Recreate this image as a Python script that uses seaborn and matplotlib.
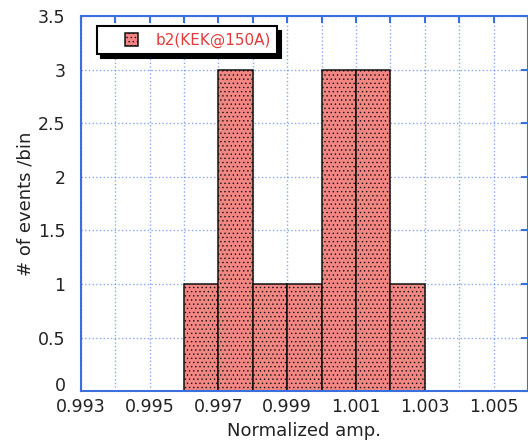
import numpy as np
import pandas as pd
import matplotlib
matplotlib.use("Agg")
import matplotlib.pyplot as plt
import matplotlib.transforms as mtrans
from matplotlib.legend_handler import HandlerPatch, update_from_first_child
from matplotlib.container import BarContainer
from matplotlib.patches import Rectangle
import seaborn as sns

# histogram data
bin_edges = [0.996, 0.997, 0.998, 0.999, 1.000, 1.001, 1.002, 1.003]
counts = [1, 3, 1, 1, 3, 3, 1]
label = "b2(KEK@150A)"

centers = [(a + b) / 2 for a, b in zip(bin_edges[:-1], bin_edges[1:])]
df = pd.DataFrame({"amp": centers, "n": counts})

sns.set_style("white")
plt.rcParams["font.family"] = ["DejaVu Sans"]
plt.rcParams["hatch.color"] = "#e85050"
plt.rcParams["hatch.linewidth"] = 0.5

fig = plt.figure(figsize=(5.28, 4.43), dpi=100)
ax = fig.add_axes([0.153, 0.117, 0.847, 0.847])

blue = "#3a6fe0"

sns.histplot(data=df, x="amp", weights="n", bins=bin_edges, ax=ax,
             color="#f28682", alpha=1, edgecolor="#111111", linewidth=1.1,
             hatch="....", label=label)

ax.set_xlim(0.993, 1.006)
ax.set_ylim(0, 3.5)
ax.set_xticks(np.arange(0.993, 1.0061, 0.001), minor=True)
ax.set_xticks([0.993, 0.995, 0.997, 0.999, 1.001, 1.003, 1.005])
ax.set_xticklabels(["0.993", "0.995", "0.997", "0.999", "1.001", "1.003", "1.005"])
ax.set_yticks(np.arange(0, 3.51, 0.5))
ax.set_yticklabels(["0", "0.5", "1", "1.5", "2", "2.5", "3", "3.5"])

ax.grid(True, which="both", axis="x", color=blue, linestyle=":", linewidth=1, alpha=0.6)
ax.grid(True, which="major", axis="y", color=blue, linestyle=":", linewidth=1, alpha=0.6)
ax.set_axisbelow(True)

for s in ax.spines.values():
    s.set_color(blue)
    s.set_linewidth(1.5)

ax.tick_params(which="both", direction="in", colors=blue, labelcolor="#222222",
               labelsize=12.5, length=5, width=1.5, top=True, right=True)
ax.tick_params(axis="y", pad=11)
ax.tick_params(axis="x", pad=5)

# the "0" label sits a bit above its tick in the original
zero = ax.get_yticklabels()[0]
zero.set_transform(zero.get_transform() + mtrans.ScaledTranslation(0, 7 / 100, fig.dpi_scale_trans))

ax.set_xlabel("Normalized amp.", fontsize=13, color="#222222", labelpad=4)
ax.set_ylabel("# of events /bin", fontsize=13, color="#222222")
ax.yaxis.set_label_coords(-0.103, 0.5)


# small square sitting at the right end of a wider handle box
def small_square(legend, orig_handle, xdescent, ydescent, width, height, fontsize):
    s = 0.85 * fontsize
    return Rectangle((-xdescent + width - s, -ydescent + (height - s) / 2), s, s)


leg = ax.legend(loc="upper left", bbox_to_anchor=(0.045, 0.962), fontsize=11,
                frameon=True, fancybox=False,
                shadow={"color": "black", "alpha": 1, "ox": 3, "oy": -3},
                borderpad=0.15, handlelength=2.3, handleheight=0.9,
                handletextpad=1.1, borderaxespad=0,
                handler_map={BarContainer: HandlerPatch(patch_func=small_square,
                                                        update_func=update_from_first_child)})
leg.get_frame().set_edgecolor("black")
leg.get_frame().set_linewidth(1.5)
leg.get_frame().set_boxstyle("square", pad=0.25)
for t in leg.get_texts():
    t.set_color("#e03c3c")

fig.savefig("out.png", dpi=100)
